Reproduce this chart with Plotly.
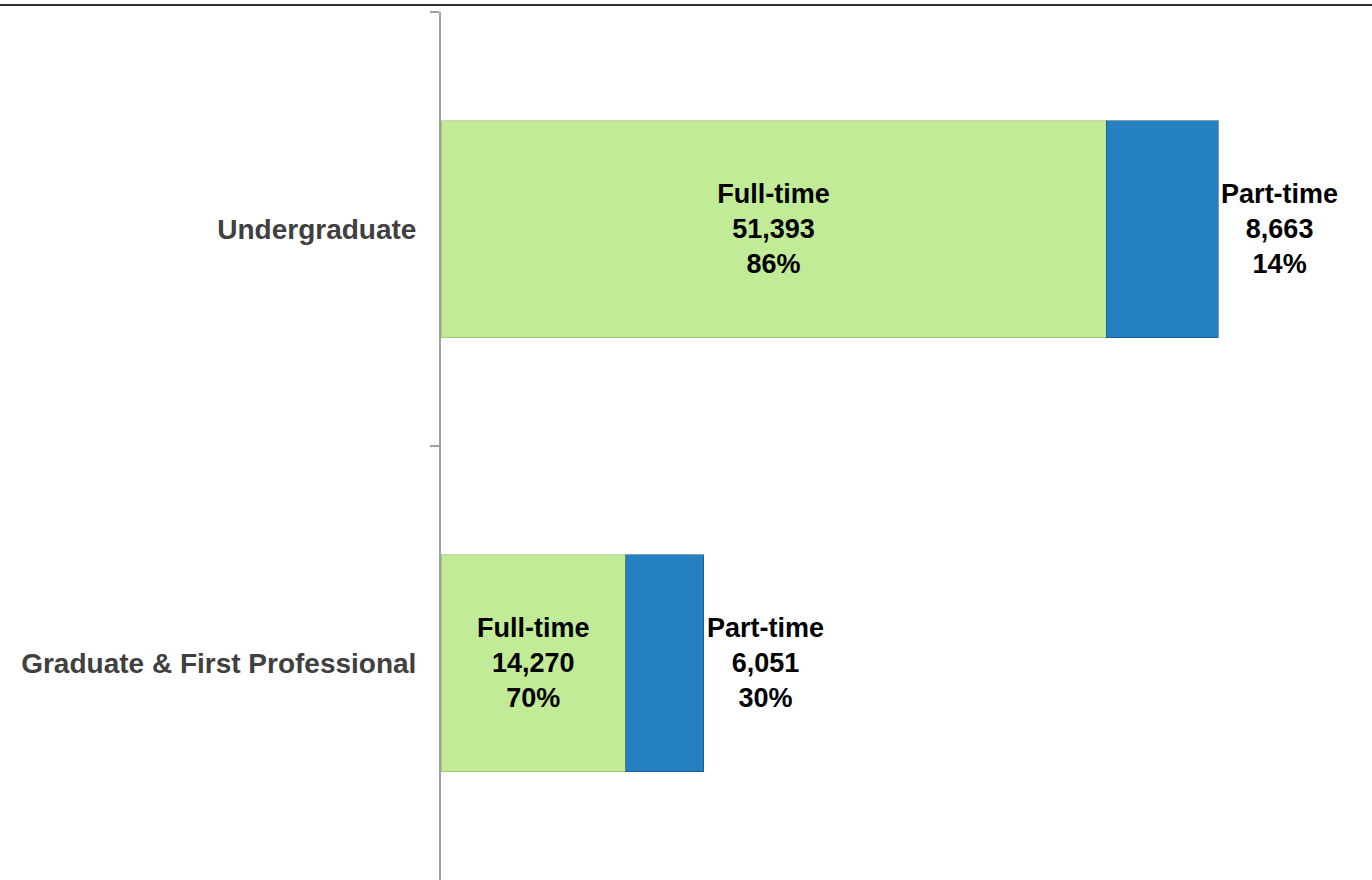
import plotly.graph_objects as go

categories = ["Undergraduate", "Graduate & First Professional"]
full_time = [51393, 14270]
part_time = [8663, 6051]
full_pct = [86, 70]
part_pct = [14, 30]

green = "#c2eb98"
blue = "#2480c0"
font_family = "Liberation Sans, Arial, sans-serif"

full_text = [f"<b>Full-time<br>{v:,}<br>{p}%</b>" for v, p in zip(full_time, full_pct)]
part_text = [f"<b>Part-time<br>{v:,}<br>{p}%</b>" for v, p in zip(part_time, part_pct)]

fig = go.Figure()
fig.add_trace(go.Bar(
    y=categories, x=full_time, orientation="h", name="Full-time",
    marker=dict(color=green, line=dict(color="rgba(90,140,50,0.35)", width=1)),
    text=full_text, textposition="inside", insidetextanchor="middle",
    textfont=dict(family=font_family, size=27, color="#000000"),
    hoverinfo="skip",
))
fig.add_trace(go.Bar(
    y=categories, x=part_time, orientation="h", name="Part-time",
    marker=dict(color=blue, line=dict(color="rgba(10,60,110,0.5)", width=1)),
    text=part_text, textposition="outside",
    textfont=dict(family=font_family, size=27, color="#000000"),
    cliponaxis=False,
    hoverinfo="skip",
))

fig.update_layout(
    barmode="stack",
    bargap=0.5,
    width=1372, height=880,
    margin=dict(l=441, r=0, t=12, b=0),
    paper_bgcolor="white", plot_bgcolor="white",
    showlegend=False,
    font=dict(family=font_family),
    xaxis=dict(range=[0, 71950], visible=False, showgrid=False, zeroline=False),
    yaxis=dict(
        categoryorder="array", categoryarray=categories, autorange="reversed",
        showline=True, linecolor="#a0a0a0", linewidth=2,
        ticks="outside", ticklen=9, tickcolor="#a0a0a0", tickwidth=2,
        tickson="boundaries", showgrid=False, zeroline=False,
        tickfont=dict(family=font_family, size=28, color="#404040"),
        ticklabelstandoff=17,
    ),
    shapes=[dict(type="line", xref="paper", yref="paper",
                 x0=-441 / 931, x1=1, y0=1 + 7 / 868, y1=1 + 7 / 868,
                 line=dict(color="#333333", width=2))],
)
fig.update_yaxes(tickprefix="<b>", ticksuffix="</b>")

fig.write_html("out.html", config={"displayModeBar": False},
               post_script="document.body.style.margin='0';")
